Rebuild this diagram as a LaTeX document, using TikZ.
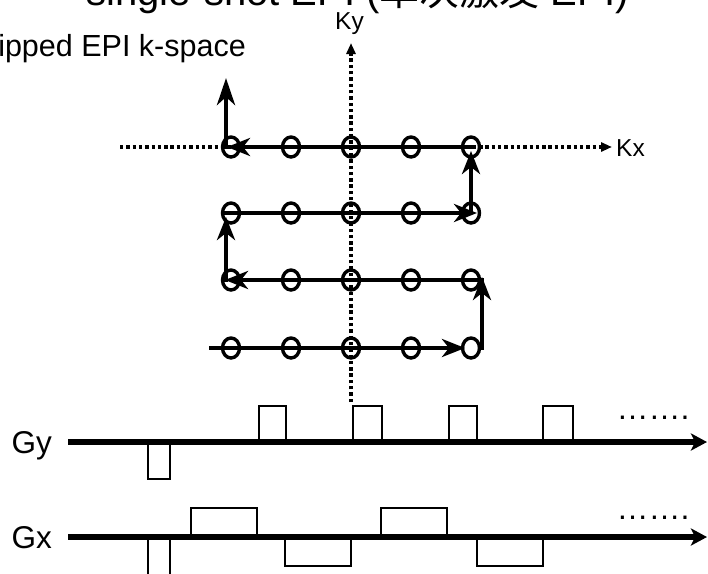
\documentclass[tikz,border=0pt]{standalone}
\usepackage{fontspec}
\setmainfont{Liberation Sans}
\newfontfamily\cjk{Noto Sans CJK SC}
\usetikzlibrary{arrows.meta,calc}

\begin{document}
\begin{tikzpicture}[x=1pt,y=-1pt,
  traj/.style={line width=4.4pt, -{Stealth[length=23pt,width=18pt,inset=7pt]}},
  bigtraj/.style={line width=4.4pt, -{Stealth[length=27pt,width=18pt,inset=8pt]}},
  sample/.style={line width=3.4pt},
  axisdot/.style={line width=3.4pt, dash pattern=on 3.4pt off 2.9pt,
    -{Triangle[length=11pt,width=9pt]}},
  gaxis/.style={line width=5.2pt, -{Stealth[length=16pt,width=17pt,inset=4pt]}},
  pulse/.style={line width=2.4pt},
  lbl/.style={inner sep=0pt, anchor=base west},
]
\path[use as bounding box, clip] (0,0) rectangle (708,573);

% titles
\node[lbl] (title) at (86,5)
  {\fontsize{40}{48}\selectfont single-shot EPI ({\cjk 单次激发} EPI)};
\node[inner sep=0pt, anchor=base east] (kspace) at (246,56.7)
  {\fontsize{30.5}{36}\selectfont Blipped EPI k-space};

% k-space sample positions
\foreach \c/\x in {1/231,2/291,3/351,4/411,5/471}
  \foreach \r/\y in {1/147,2/213,3/280,4/348}
    \coordinate (s\r\c) at (\x,\y);

% k-space axes
\coordinate (kx0) at (120,147);
\coordinate (kx1) at (612,147);
\coordinate (ky0) at (351,402);
\coordinate (ky1) at (351,43);
\draw[axisdot] (kx0) -- (kx1);
\draw[axisdot] (ky0) -- (ky1);
\node[lbl] (kxlbl) at (616,156.5) {\fontsize{24.5}{28}\selectfont Kx};
\node[lbl] (kylbl) at (335,29) {\fontsize{24.5}{28}\selectfont Ky};

% sampled points
\foreach \c in {1,...,5}
  \foreach \r in {1,...,4}
    \draw[sample] (s\r\c) ellipse [x radius=8.5, y radius=10];

% blipped EPI trajectory
\coordinate (t0) at (209,348);
\draw[traj] (t0) -- ($(s45)+(-6,0)$);
\draw[traj] ($(s45)+(11,2)$) -- ($(s35)+(11,-3)$);
\draw[traj] ($(s35)+(13,0)$) -- ($(s31)+(-6,0)$);
\draw[traj] ($(s31)+(-5,2)$) -- ($(s21)+(-5,4)$);
\draw[traj] ($(s21)+(-7,0)$) -- ($(s25)+(6,0)$);
\draw[traj] ($(s25)+(0,0)$) -- ($(s15)+(0,4)$);
\draw[traj] ($(s15)+(2,0)$) -- ($(s11)+(-4,0)$);
\draw[bigtraj] ($(s11)+(-5,2)$) -- ($(s11)+(-5,-69)$);

% gradient waveforms: Gy
\coordinate (gy0) at (68,442);
\coordinate (gy1) at (707,442);
\draw[pulse] (148,442) -- (148,479) -- (170,479) -- (170,442);
\foreach \a/\b in {259/286, 353/382, 449/477, 543/573}
  \draw[pulse] (\a,442) -- (\a,406) -- (\b,406) -- (\b,442);
\draw[gaxis] (gy0) -- (gy1);
\node[lbl] (gylbl) at (11.5,453) {\fontsize{31.5}{36}\selectfont Gy};
\node[lbl] (gydots) at (616.5,419.5) {\fontsize{32}{36}\selectfont …….};

% gradient waveforms: Gx
\coordinate (gx0) at (68,537);
\coordinate (gx1) at (707,537);
\draw[pulse] (148,537) -- (148,580) -- (170,580) -- (170,537);
\foreach \a/\b in {191/257, 381/447}
  \draw[pulse] (\a,537) -- (\a,508) -- (\b,508) -- (\b,537);
\foreach \a/\b in {285/351, 477/543}
  \draw[pulse] (\a,537) -- (\a,566) -- (\b,566) -- (\b,537);
\draw[gaxis] (gx0) -- (gx1);
\node[lbl] (gxlbl) at (11.5,548) {\fontsize{31.5}{36}\selectfont Gx};
\node[lbl] (gxdots) at (616.5,519.5) {\fontsize{32}{36}\selectfont …….};
\end{tikzpicture}
\end{document}
